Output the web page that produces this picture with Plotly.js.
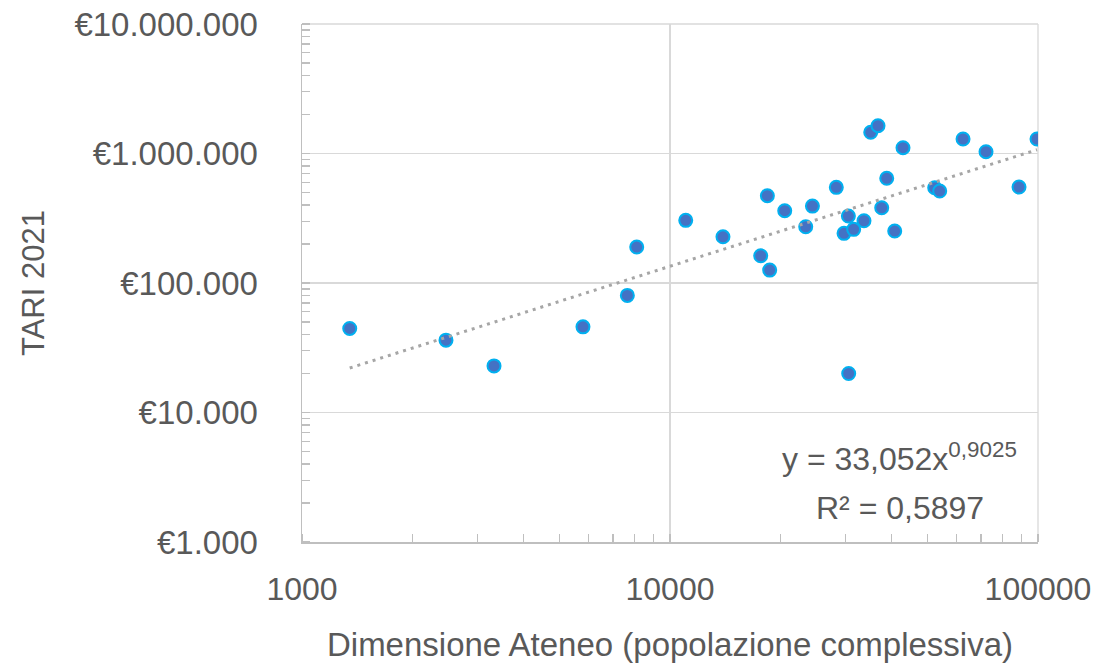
<!DOCTYPE html>
<html>
<head>
<meta charset="utf-8">
<script src="https://cdn.plot.ly/plotly-3.0.1.min.js"></script>
<style>
  html, body { margin: 0; padding: 0; background: #ffffff; }
  #chart { width: 1105px; height: 663px; }
</style>
</head>
<body>
<div id="chart"></div>
<script>
// Dimensione Ateneo (popolazione complessiva)
const popolazione = [1348, 2462, 3325, 5801, 7658, 8120, 11035, 13930, 17640, 18660,
  18390, 20500, 23380, 24380, 28310, 29710, 30530, 31560, 30590, 33660,
  35110, 36750, 37610, 38810, 40800, 42970, 52400, 54060, 62560, 72230,
  88800, 99380];
// TARI 2021 (€)
const tari2021 = [44570, 36200, 22900, 45860, 80200, 189500, 304700, 227500, 162200, 125800,
  472000, 361500, 271800, 392600, 548000, 241700, 328900, 259500, 20010, 302500,
  1458000, 1640000, 381000, 643300, 251800, 1109000, 544000, 513000, 1294000, 1032000,
  550800, 1294000];

// Power trendline as shown in the chart: y = 33,052 x^0,9025
const trendCoeff = 33.052;
const trendExp = 0.9025;
const trendLabel = "y = 33,052x<sup>0,9025</sup>";
const r2Label = "R² = 0,5897";

const yTickVals = [1000, 10000, 100000, 1000000, 10000000];
const yTickText = ["€1.000", "€10.000", "€100.000", "€1.000.000", "€10.000.000"];
const xTickVals = [1000, 10000, 100000];
const xTickText = ["1000", "10000", "100000"];

const xMin = Math.min(...popolazione);
const xMax = Math.max(...popolazione);
const trendX = [xMin, xMax];
const trendY = trendX.map(v => trendCoeff * Math.pow(v, trendExp));

const FONT = "Liberation Sans, Arial, sans-serif";
const TXT = "#595959";
const GRID = "#D9D9D9";

const data = [
  {
    type: "scatter",
    mode: "markers",
    x: popolazione,
    y: tari2021,
    marker: { size: 13, color: "#4472C4", line: { color: "#00B0F0", width: 2 } },
    hoverinfo: "x+y"
  },
  {
    type: "scatter",
    mode: "lines",
    x: trendX,
    y: trendY,
    line: { color: "#A6A6A6", width: 3, dash: "3px,5px" },
    hoverinfo: "skip"
  }
];

const layout = {
  width: 1105,
  height: 663,
  margin: { l: 302, r: 67, t: 24, b: 121 },
  paper_bgcolor: "#ffffff",
  plot_bgcolor: "#ffffff",
  showlegend: false,
  font: { family: FONT, color: TXT, size: 32 },
  xaxis: {
    type: "log",
    range: [3, 5],
    tickvals: xTickVals,
    ticktext: xTickText,
    tickfont: { family: FONT, size: 32, color: TXT },
    ticks: "",
    ticklabelstandoff: 18,
    showline: true,
    linecolor: "#BFBFBF",
    linewidth: 1.5,
    showgrid: true,
    gridcolor: GRID,
    gridwidth: 1.3,
    zeroline: false,
    minor: { dtick: "D1", ticks: "inside", ticklen: 8, tickcolor: "#BFBFBF", tickwidth: 1.3, showgrid: false },
    title: { text: "Dimensione Ateneo (popolazione complessiva)", font: { family: FONT, size: 33, color: TXT }, standoff: 27 },
    automargin: false,
    fixedrange: true
  },
  yaxis: {
    type: "log",
    range: [3, 7],
    tickvals: yTickVals,
    ticktext: yTickText,
    tickfont: { family: FONT, size: 33, color: TXT },
    ticks: "",
    ticklabelstandoff: 36,
    showline: true,
    linecolor: "#BFBFBF",
    linewidth: 1.5,
    showgrid: true,
    gridcolor: GRID,
    gridwidth: 1.3,
    zeroline: false,
    minor: { dtick: "D1", ticks: "inside", ticklen: 8, tickcolor: "#BFBFBF", tickwidth: 1.3, showgrid: false },
    title: { text: "TARI 2021", font: { family: FONT, size: 31, color: TXT }, standoff: 20 },
    automargin: false,
    fixedrange: true
  },
  shapes: [
    { type: "line", xref: "paper", yref: "paper", x0: 0, x1: 1, y0: 1, y1: 1, line: { color: GRID, width: 1.3 }, layer: "below" },
    { type: "line", xref: "paper", yref: "paper", x0: 1, x1: 1, y0: 0, y1: 1, line: { color: GRID, width: 1.3 }, layer: "below" }
  ],
  annotations: [
    {
      xref: "paper", yref: "paper",
      x: 0.812, y: 0.165,
      xanchor: "center", yanchor: "middle",
      text: trendLabel,
      showarrow: false,
      font: { family: FONT, size: 32, color: TXT }
    },
    {
      xref: "paper", yref: "paper",
      x: 0.812, y: 0.066,
      xanchor: "center", yanchor: "middle",
      text: r2Label,
      showarrow: false,
      font: { family: FONT, size: 32, color: TXT }
    }
  ]
};

Plotly.newPlot("chart", data, layout, { displayModeBar: false, staticPlot: true });
</script>
</body>
</html>
